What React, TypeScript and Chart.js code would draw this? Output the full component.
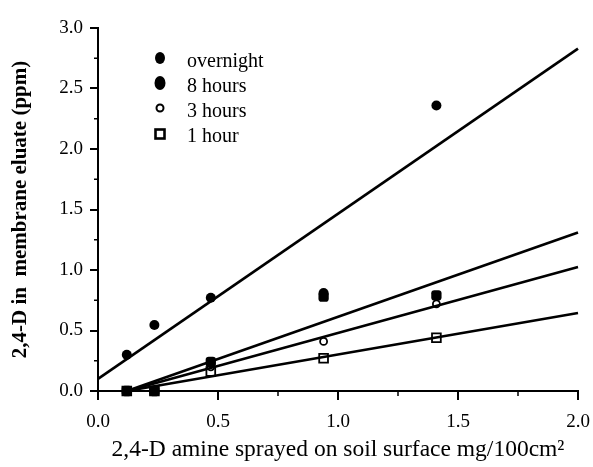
import React, { useEffect, useRef } from "react";
import { Chart, registerables } from "chart.js";

Chart.register(...registerables);

const doseX = [0.12, 0.235, 0.47, 0.94, 1.41];
const overnightY = [0.3, 0.545, 0.77, 0.81, 2.36];
const hours8Y = [0, 0, 0.24, 0.78, 0.79];
const hours3Y = [0, 0, 0.2, 0.41, 0.72];
const hour1Y = [0, 0, 0.16, 0.27, 0.44];

const seriesLabels = ["overnight", "8 hours", "3 hours", "1 hour"];

// regression line endpoints
const fitOvernightX = [0, 2.0];
const fitOvernightY = [0.1, 2.83];
const fit8hX = [0.12, 2.0];
const fit8hY = [0, 1.31];
const fit3hX = [0.12, 2.0];
const fit3hY = [0, 1.025];
const fit1hX = [0.12, 2.0];
const fit1hY = [0, 0.645];

const xTicks = [0, 0.5, 1.0, 1.5, 2.0];
const yTicks = [0, 0.5, 1.0, 1.5, 2.0, 2.5, 3.0];

const FONT = "'Liberation Serif', 'Times New Roman', serif";

const pts = (xs: number[], ys: number[]) => xs.map((x, i) => ({ x, y: ys[i] }));

export default function App() {
  const ref = useRef<HTMLCanvasElement | null>(null);
  useEffect(() => {
    if (!ref.current) return;
    const pointStyles: any[] = [
      { pointStyle: "circle", radius: 5, bg: "#000", bw: 0 },
      { pointStyle: "rectRounded", radius: 6, bg: "#000", bw: 0 },
      { pointStyle: "circle", radius: 3.5, bg: "#fff", bw: 1.8 },
      { pointStyle: "rect", radius: 6.2, bg: "#fff", bw: 1.8 },
    ];
    const seriesY = [overnightY, hours8Y, hours3Y, hour1Y];
    const fits = [
      [fitOvernightX, fitOvernightY],
      [fit8hX, fit8hY],
      [fit3hX, fit3hY],
      [fit1hX, fit1hY],
    ];
    const lineSets = fits.map(([xs, ys]) => ({
      label: "fit",
      data: pts(xs, ys),
      showLine: true,
      borderColor: "#000",
      borderWidth: 2.6,
      pointRadius: 0,
      fill: false,
      clip: false as any,
    }));
    const pointSets = seriesY.map((ys, i) => ({
      label: seriesLabels[i],
      data: pts(doseX, ys),
      showLine: false,
      pointStyle: pointStyles[i].pointStyle,
      pointRadius: pointStyles[i].radius,
      pointBackgroundColor: pointStyles[i].bg,
      pointBorderColor: "#000",
      pointBorderWidth: pointStyles[i].bw,
      clip: false as any,
    }));

    const extras = {
      id: "extras",
      afterDraw(chart: any) {
        const ctx = chart.ctx;
        const xs = chart.scales.x;
        const ys = chart.scales.y;
        ctx.save();
        ctx.strokeStyle = "#000";
        ctx.lineWidth = 1.5;
        // minor ticks
        for (const v of [0.25, 0.75, 1.25, 1.75]) {
          const px = xs.getPixelForValue(v);
          ctx.beginPath();
          ctx.moveTo(px, ys.bottom);
          ctx.lineTo(px, ys.bottom + 5);
          ctx.stroke();
        }
        for (const v of [0.25, 0.75, 1.25, 1.75, 2.25, 2.75]) {
          const py = ys.getPixelForValue(v);
          ctx.beginPath();
          ctx.moveTo(xs.left - 4, py);
          ctx.lineTo(xs.left, py);
          ctx.stroke();
        }
        // legend
        const mx = xs.left + 62;
        const tx = xs.left + 89;
        const markerRows = [58, 83, 108, 134];
        const textRows = [62, 87, 112, 137];
        ctx.font = "20px " + FONT;
        ctx.textBaseline = "middle";
        ctx.fillStyle = "#000";
        markerRows.forEach((ry, i) => {
          ctx.fillStyle = "#000";
          if (i === 0) {
            ctx.beginPath();
            ctx.ellipse(mx, ry, 5, 6, 0, 0, Math.PI * 2);
            ctx.fill();
          } else if (i === 1) {
            ctx.beginPath();
            ctx.ellipse(mx, ry, 5.5, 7, 0, 0, Math.PI * 2);
            ctx.fill();
          } else if (i === 2) {
            ctx.beginPath();
            ctx.lineWidth = 2;
            ctx.arc(mx, ry, 3.5, 0, Math.PI * 2);
            ctx.stroke();
          } else {
            ctx.lineWidth = 2.6;
            ctx.strokeRect(mx - 4.5, ry - 4.5, 9, 9);
          }
          ctx.fillText(seriesLabels[i], tx, textRows[i]);
        });
        ctx.restore();
      },
    };

    const chart = new Chart(ref.current, {
      type: "scatter",
      data: { datasets: [...lineSets, ...pointSets] as any },
      plugins: [extras],
      options: {
        animation: false,
        responsive: false,
        maintainAspectRatio: false,
        layout: { padding: { top: 28, right: 15, left: 0, bottom: 0 } },
        plugins: { legend: { display: false }, tooltip: { enabled: false } },
        scales: {
          x: {
            type: "linear",
            min: 0,
            max: 2,
            afterFit: (s: any) => {
              s.height = 76;
              s.paddingLeft = 0;
              s.paddingRight = 0;
            },
            afterBuildTicks: (s: any) => {
              s.ticks = xTicks.map((v) => ({ value: v }));
            },
            ticks: {
              color: "#000",
              font: { family: FONT, size: 19 },
              padding: 11,
              maxRotation: 0,
              callback: (v: any) => Number(v).toFixed(1),
            },
            grid: { drawOnChartArea: false, drawTicks: true, tickLength: 9, color: "#000", lineWidth: 2 },
            border: { display: true, color: "#000", width: 2 },
            title: {
              display: true,
              text: "2,4-D amine sprayed on soil surface mg/100cm²",
              color: "#000",
              font: { family: FONT, size: 23.5 },
              padding: { top: 0, bottom: 3 },
            },
          },
          y: {
            type: "linear",
            min: 0,
            max: 3,
            afterFit: (s: any) => {
              s.width = 98;
              s.paddingTop = 0;
              s.paddingBottom = 0;
            },
            afterBuildTicks: (s: any) => {
              s.ticks = yTicks.map((v) => ({ value: v }));
            },
            ticks: {
              color: "#000",
              font: { family: FONT, size: 19 },
              padding: 7,
              callback: (v: any) => Number(v).toFixed(1),
            },
            grid: { drawOnChartArea: false, drawTicks: true, tickLength: 8, color: "#000", lineWidth: 2 },
            border: { display: true, color: "#000", width: 2 },
            title: {
              display: true,
              text: "2,4-D in  membrane eluate (ppm)",
              color: "#000",
              font: { family: FONT, size: 21, weight: "bold" },
              padding: { top: 8, bottom: 0 },
            },
          },
        },
      },
    });
    return () => chart.destroy();
  }, []);
  return (
    <div style={{ position: "fixed", left: 0, top: 0, width: 593, height: 467, background: "#fff" }}>
      <canvas ref={ref} width={593} height={467} style={{ width: 593, height: 467, display: "block" }} />
    </div>
  );
}
